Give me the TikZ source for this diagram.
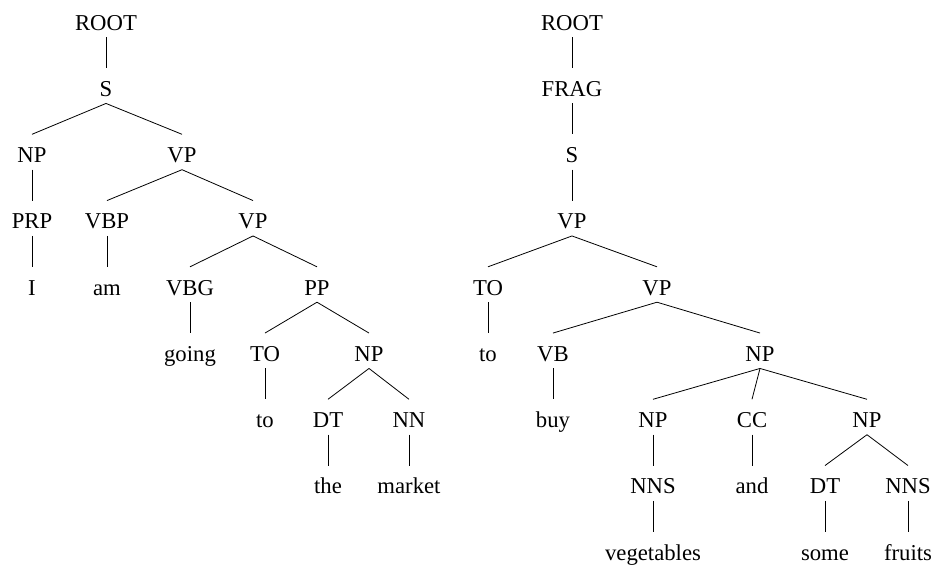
\documentclass[tikz,border=0pt]{standalone}
\usepackage{fontspec}
\setmainfont{Liberation Serif}
\usepackage{tikz}

\begin{document}
\begin{tikzpicture}[x=1pt,y=-1pt,
		every node/.style={anchor=base,font=\fontsize{22.7}{27}\selectfont,
			text height=22pt,text depth=1pt,inner xsep=0pt,inner ysep=6pt}]
		\useasboundingbox (0,0) rectangle (935,565);
		% left tree
		\node (lroot) at (106,30) {ROOT};
		\node (ls) at (106,96.25) {S};
		\node (lnp) at (32,162.5) {NP};
		\node (lvp) at (182,162.5) {VP};
		\node (lprp) at (32,228.75) {PRP};
		\node (lvbp) at (107,228.75) {VBP};
		\node (lvpb) at (253,228.75) {VP};
		\node (li) at (32,295) {I};
		\node (lam) at (107,295) {am};
		\node (lvbg) at (190,295) {VBG};
		\node (lpp) at (317,295) {PP};
		\node (lgoing) at (190,361.25) {going};
		\node (lto) at (265,361.25) {TO};
		\node (lnpb) at (369,361.25) {NP};
		\node (ltow) at (265,427.5) {to};
		\node (ldt) at (328,427.5) {DT};
		\node (lnn) at (409,427.5) {NN};
		\node (lthe) at (328,493.75) {the};
		\node (lmarket) at (409,493.75) {market};
		% right tree
		\node (rroot) at (572,30) {ROOT};
		\node (rfrag) at (572,96.25) {FRAG};
		\node (rs) at (572,162.5) {S};
		\node (rvp) at (572,228.75) {VP};
		\node (rto) at (488,295) {TO};
		\node (rvpb) at (657,295) {VP};
		\node (rtow) at (488,361.25) {to};
		\node (rvb) at (553,361.25) {VB};
		\node (rnp) at (760,361.25) {NP};
		\node (rbuy) at (553,427.5) {buy};
		\node (rnpb) at (653,427.5) {NP};
		\node (rcc) at (752,427.5) {CC};
		\node (rnpc) at (867,427.5) {NP};
		\node (rnns) at (653,493.75) {NNS};
		\node (rand) at (752,493.75) {and};
		\node (rdt) at (825,493.75) {DT};
		\node (rnnsb) at (908,493.75) {NNS};
		\node (rveg) at (653,560) {vegetables};
		\node (rsome) at (825,560) {some};
		\node (rfruits) at (908,560) {fruits};
		%
		\path[line width=0.8pt]
		% left branches
		(lroot.south) edge (ls.north)
		(ls.south) edge (lnp.north)
		(ls.south) edge (lvp.north)
		(lnp.south) edge (lprp.north)
		(lvp.south) edge (lvbp.north)
		(lvp.south) edge (lvpb.north)
		(lprp.south) edge (li.north)
		(lvbp.south) edge (lam.north)
		(lvpb.south) edge (lvbg.north)
		(lvpb.south) edge (lpp.north)
		(lvbg.south) edge (lgoing.north)
		(lpp.south) edge (lto.north)
		(lpp.south) edge (lnpb.north)
		(lto.south) edge (ltow.north)
		(lnpb.south) edge (ldt.north)
		(lnpb.south) edge (lnn.north)
		(ldt.south) edge (lthe.north)
		(lnn.south) edge (lmarket.north)
		% right branches
		(rroot.south) edge (rfrag.north)
		(rfrag.south) edge (rs.north)
		(rs.south) edge (rvp.north)
		(rvp.south) edge (rto.north)
		(rvp.south) edge (rvpb.north)
		(rto.south) edge (rtow.north)
		(rvpb.south) edge (rvb.north)
		(rvpb.south) edge (rnp.north)
		(rvb.south) edge (rbuy.north)
		(rnp.south) edge (rnpb.north)
		(rnp.south) edge (rcc.north)
		(rnp.south) edge (rnpc.north)
		(rnpb.south) edge (rnns.north)
		(rcc.south) edge (rand.north)
		(rnpc.south) edge (rdt.north)
		(rnpc.south) edge (rnnsb.north)
		(rnns.south) edge (rveg.north)
		(rdt.south) edge (rsome.north)
		(rnnsb.south) edge (rfruits.north);
\end{tikzpicture}
\end{document}
